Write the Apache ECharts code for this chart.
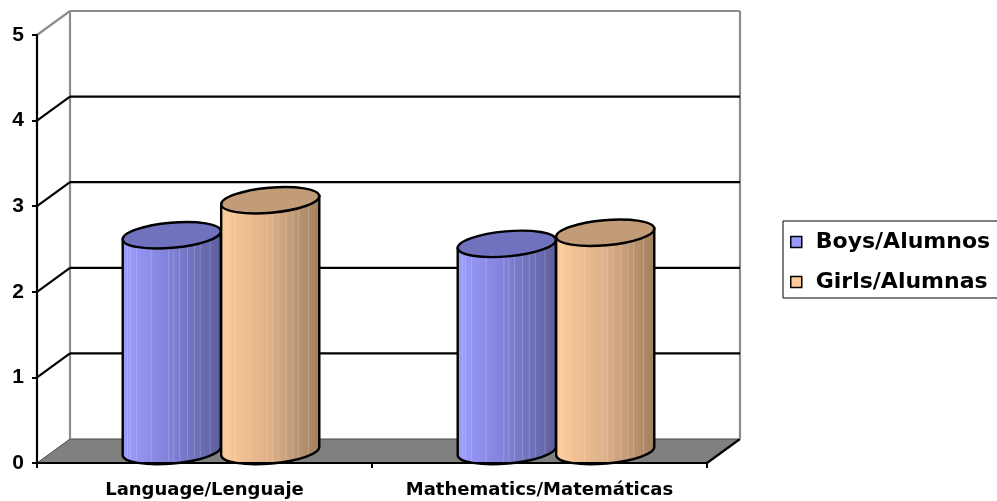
<!DOCTYPE html>
<html><head><meta charset="utf-8">
<script src="https://cdn.jsdelivr.net/npm/echarts@6/dist/echarts.min.js"></script>
<style>html,body{margin:0;padding:0;background:#fff}#c{width:997px;height:501px}</style>
</head><body><div id="c"></div>
<script>
const categories = ['Language/Lenguaje', 'Mathematics/Matemáticas'];
const seriesNames = ['Boys/Alumnos', 'Girls/Alumnas'];
const boys = [2.52, 2.42];
const girls = [2.93, 2.55];
const yTicks = [0, 1, 2, 3, 4, 5];

const DX = 33, DY = 24;
const TILT = 5 * Math.PI / 180;
const STRIPES = [0.05, 0.08, 0.14, 0.29, 0.47, 0.52, 0.58, 0.66, 0.73, 0.79, 0.89];

const chart = echarts.init(document.getElementById('c'), null, {renderer: 'canvas'});

function frameItem(params, api) {
  const cs = params.coordSys;
  const x0 = cs.x, x1 = cs.x + cs.width;
  const v = api.value(1);
  const y = api.coord([0, v])[1];
  const vMax = yTicks[yTicks.length - 1];
  const yTop = api.coord([0, vMax])[1];
  const black = {stroke: '#000', lineWidth: 2.2};
  const gray = {stroke: '#8c8c8c', lineWidth: 2.2};
  const ch = [];
  if (v === 0) {
    ch.push({type: 'polygon', shape: {points: [[x0, y], [x1, y], [x1 + DX, y - DY], [x0 + DX, y - DY]]}, style: {fill: '#808080'}});
    ch.push({type: 'line', shape: {x1: x0 + DX, y1: y - DY, x2: x1 + DX, y2: y - DY}, style: {stroke: '#4a4a4a', lineWidth: 1}});
    ch.push({type: 'line', shape: {x1: x0, y1: y, x2: x0 + DX, y2: y - DY}, style: {stroke: '#4a4a4a', lineWidth: 1}});
    ch.push({type: 'line', shape: {x1: x1, y1: y, x2: x1 + DX, y2: y - DY}, style: black});
    ch.push({type: 'line', shape: {x1: x0 + DX, y1: y - DY, x2: x0 + DX, y2: yTop - DY}, style: gray});
    ch.push({type: 'line', shape: {x1: x1 + DX, y1: y - DY, x2: x1 + DX, y2: yTop - DY}, style: gray});
  } else {
    const st = v === vMax ? gray : black;
    ch.push({type: 'line', shape: {x1: x0, y1: y, x2: x0 + DX, y2: y - DY}, style: st});
    ch.push({type: 'line', shape: {x1: x0 + DX, y1: y - DY, x2: x1 + DX, y2: y - DY}, style: st});
  }
  return {type: 'group', children: ch};
}

function cylinderRenderer(sign, bodyStops, topColor) {
  return function (params, api) {
    const cat = api.value(0), val = api.value(1);
    const base = api.coord([cat, 0]);
    const top = api.coord([cat, val]);
    const bw = api.size([1, 0])[0];
    const rx = bw * 0.147;
    const ry = rx * 0.255;
    const cx = base[0] + DX / 2 + sign * rx;
    const yb = base[1] - DY / 2;
    const yt = top[1] - DY / 2;
    const c = Math.cos(TILT), s = Math.sin(TILT);
    const deg = -TILT * 180 / Math.PI;
    const xl = cx - rx * c, xr = cx + rx * c;
    const body = 'M' + xl + ' ' + (yt + rx * s) + ' L' + xl + ' ' + (yb + rx * s) +
      ' A' + rx + ' ' + ry + ' ' + deg + ' 0 0 ' + xr + ' ' + (yb - rx * s) +
      ' L' + xr + ' ' + (yt - rx * s) + ' Z';
    const topPath = 'M' + xl + ' ' + (yt + rx * s) +
      ' A' + rx + ' ' + ry + ' ' + deg + ' 0 0 ' + xr + ' ' + (yt - rx * s) +
      ' A' + rx + ' ' + ry + ' ' + deg + ' 0 0 ' + xl + ' ' + (yt + rx * s) + ' Z';
    const ch = [];
    ch.push({type: 'path', shape: {pathData: body}, style: {
      fill: new echarts.graphic.LinearGradient(0, 0, 1, 0, bodyStops), stroke: null}});
    STRIPES.forEach(function (f) {
      const x = xl + f * (xr - xl);
      const u = (x - cx) / rx;
      const tiltOff = -(x - cx) * Math.tan(TILT);
      const yEnd = yb + tiltOff + ry * Math.sqrt(Math.max(0, 1 - u * u)) - 2;
      ch.push({type: 'line', shape: {x1: x, y1: yt + tiltOff, x2: x, y2: yEnd},
        style: {stroke: 'rgba(255,255,255,0.2)', lineWidth: 1}});
    });
    ch.push({type: 'path', shape: {pathData: body}, style: {fill: null, stroke: '#000', lineWidth: 2.4}});
    ch.push({type: 'path', shape: {pathData: topPath}, style: {fill: topColor, stroke: '#000', lineWidth: 2.4}});
    return {type: 'group', children: ch};
  };
}

const blueStops = [{offset: 0, color: '#9C9CFF'}, {offset: 0.5, color: '#8080D6'}, {offset: 1, color: '#5E5E9C'}];
const orangeStops = [{offset: 0, color: '#FFCC99'}, {offset: 0.5, color: '#DDB088'}, {offset: 1, color: '#A08060'}];

const option = {
  backgroundColor: '#fff',
  animation: false,
  grid: {left: 37, right: 290, top: 35, bottom: 38},
  xAxis: {
    type: 'category', data: categories, z: 5,
    axisLine: {lineStyle: {color: '#000', width: 2.2}},
    axisTick: {show: true, length: 5, lineStyle: {color: '#000', width: 2}},
    axisLabel: {interval: 0, margin: 18, color: '#000', fontFamily: 'DejaVu Sans', fontWeight: 'bold', fontSize: 18}
  },
  yAxis: {
    type: 'value', min: 0, max: 5, interval: 1, z: 5,
    axisLine: {show: true, lineStyle: {color: '#000', width: 2.2}},
    axisTick: {show: true, length: 5, lineStyle: {color: '#000', width: 2}},
    splitLine: {show: false},
    axisLabel: {margin: 13, color: '#000', fontFamily: 'Liberation Sans, Arial', fontWeight: 'bold', fontSize: 21}
  },
  legend: {
    orient: 'vertical', left: 783, top: 221,
    padding: [9, 24, 4, 7],
    itemWidth: 11, itemHeight: 11, itemGap: 16,
    borderColor: '#000', borderWidth: 1, icon: 'rect',
    textStyle: {color: '#000', fontFamily: 'DejaVu Sans', fontWeight: 'bold', fontSize: 22, lineHeight: 24, padding: [0, 0, 0, 9]},
    data: [
      {name: seriesNames[0], itemStyle: {color: '#9999FF', borderColor: '#000', borderWidth: 1.5}},
      {name: seriesNames[1], itemStyle: {color: '#FFCC99', borderColor: '#000', borderWidth: 1.5}}
    ]
  },
  series: [
    {type: 'custom', z: 1, silent: true, data: yTicks.map(function (v) { return [0, v]; }),
      encode: {x: 0, y: 1}, renderItem: frameItem},
    {type: 'custom', name: seriesNames[0], z: 2, itemStyle: {color: '#9999FF'},
      data: boys.map(function (v, i) { return [i, v]; }), encode: {x: 0, y: 1},
      renderItem: cylinderRenderer(-1, blueStops, '#7072C0')},
    {type: 'custom', name: seriesNames[1], z: 2, itemStyle: {color: '#FFCC99'},
      data: girls.map(function (v, i) { return [i, v]; }), encode: {x: 0, y: 1},
      renderItem: cylinderRenderer(1, orangeStops, '#C29C76')}
  ]
};
chart.setOption(option);
</script>
</body></html>
